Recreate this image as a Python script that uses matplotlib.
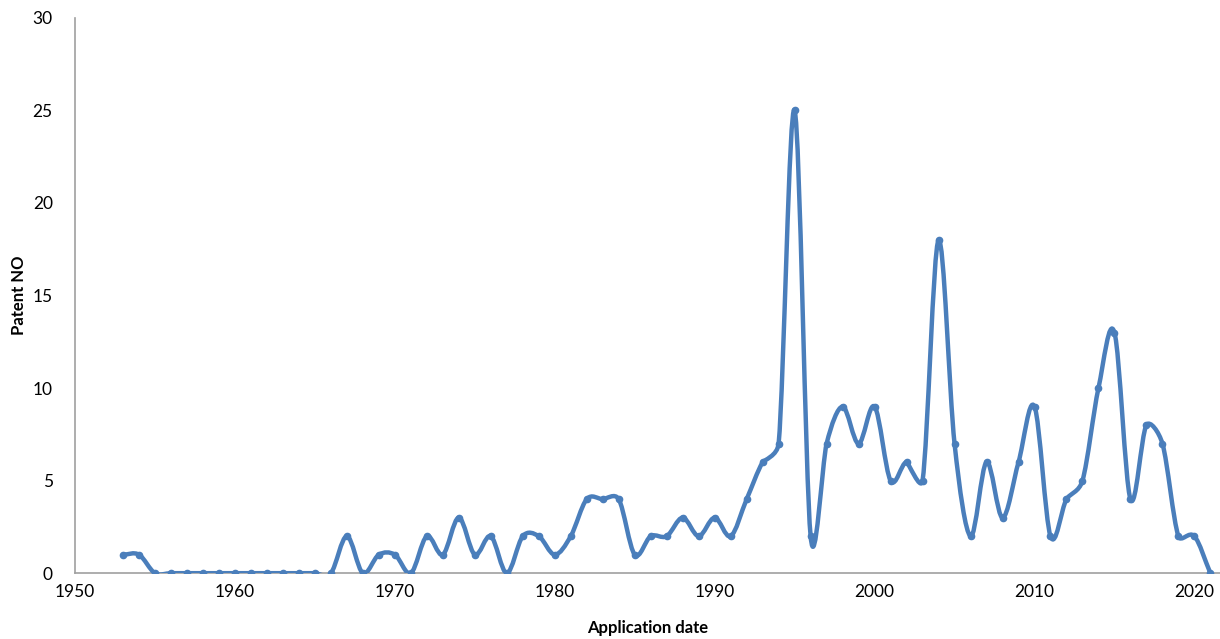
import matplotlib.pyplot as plt
from matplotlib.path import Path
from matplotlib.patches import PathPatch
import numpy as np

# yearly patent counts
years = list(range(1953, 2022))
patents = [1, 1, 0, 0, 0, 0, 0, 0, 0, 0, 0, 0, 0, 0,   # 1953-1966
           2, 0, 1, 1, 0, 2, 1, 3, 1, 2, 0, 2, 2, 1,    # 1967-1980
           2, 4, 4, 4, 1, 2, 2, 3, 2, 3, 2, 4, 6, 7,    # 1981-1994
           25, 2, 7, 9, 7, 9, 5, 6, 5, 18, 7, 2, 6, 3,  # 1995-2008
           6, 9, 2, 4, 5, 10, 13, 4, 8, 7, 2, 2, 0]     # 2009-2021

x_ticks = [1950, 1960, 1970, 1980, 1990, 2000, 2010, 2020]
y_ticks = [0, 5, 10, 15, 20, 25, 30]

line_color = '#4a7ebb'
axis_color = '#a0a0a0'

plt.rcParams['font.family'] = ['Lato', 'DejaVu Sans']


# Excel's "smoothed line": Catmull-Rom bezier handles (1/6 of the chord
# p0->p2), but clamped to half the segment length when they'd overshoot.
# Lengths are measured on screen, handles are applied in data space.
def smooth_path(ax, xs, ys):
    data = np.column_stack([xs, ys]).astype(float)
    scr = ax.transData.transform(data)
    n = len(data)

    def dist(a, b):
        return np.hypot(*(scr[a] - scr[b]))

    verts = [data[0]]
    codes = [Path.MOVETO]
    for i in range(n - 1):
        i0, i1, i2, i3 = max(i - 1, 0), i, i + 1, min(i + 2, n - 1)
        p0, p1, p2, p3 = data[i0], data[i1], data[i2], data[i3]
        d12 = dist(i1, i2)
        d02 = dist(i0, i2)
        d13 = dist(i1, i3)
        half = d12 / 2.0
        if d02 / 6 < half and d13 / 6 < half:
            f1 = 1 / 6 if i0 != i1 else 1 / 3
            f2 = 1 / 6 if i2 != i3 else 1 / 3
            c1 = p1 + (p2 - p0) * f1
            c2 = p2 - (p3 - p1) * f2
        elif d02 / 6 >= half and d13 / 6 >= half:
            c1 = p1 + (p2 - p0) * half / d02
            c2 = p2 - (p3 - p1) * half / d13
        elif d02 / 6 >= half:
            c1 = p1 + (p2 - p0) * half / d02
            c2 = p2 - (p3 - p1) * half / d02
        else:
            c1 = p1 + (p2 - p0) * half / d13
            c2 = p2 - (p3 - p1) * half / d13
        verts += [c1, c2, p2]
        codes += [Path.CURVE4] * 3
    return Path(verts, codes)


fig, ax = plt.subplots(figsize=(12.2, 6.39), dpi=100)
fig.subplots_adjust(left=0.0615, right=1.0, top=0.972, bottom=0.103)

ax.set_xlim(1950, 2021.6)
ax.set_ylim(0, 30)

ax.add_patch(PathPatch(smooth_path(ax, years, patents), facecolor='none',
                       edgecolor=line_color, lw=3.2, capstyle='round',
                       joinstyle='round', zorder=3))
ax.plot(years, patents, 'o', color=line_color, ms=4.5, zorder=4)

ax.set_xticks(x_ticks)
ax.set_yticks(y_ticks)
ax.tick_params(length=0, labelsize=12.5, colors='black')
ax.tick_params(axis='x', pad=8)
ax.tick_params(axis='y', pad=16)

for side in ['top', 'right']:
    ax.spines[side].set_visible(False)
for side in ['left', 'bottom']:
    ax.spines[side].set_color(axis_color)
    ax.spines[side].set_linewidth(1.2)

ax.set_xlabel('Application date', fontsize=12, fontweight='bold', labelpad=14)
ax.set_ylabel('Patent NO', fontsize=12, fontweight='bold', labelpad=4)

fig.savefig('out.png', dpi=100)
